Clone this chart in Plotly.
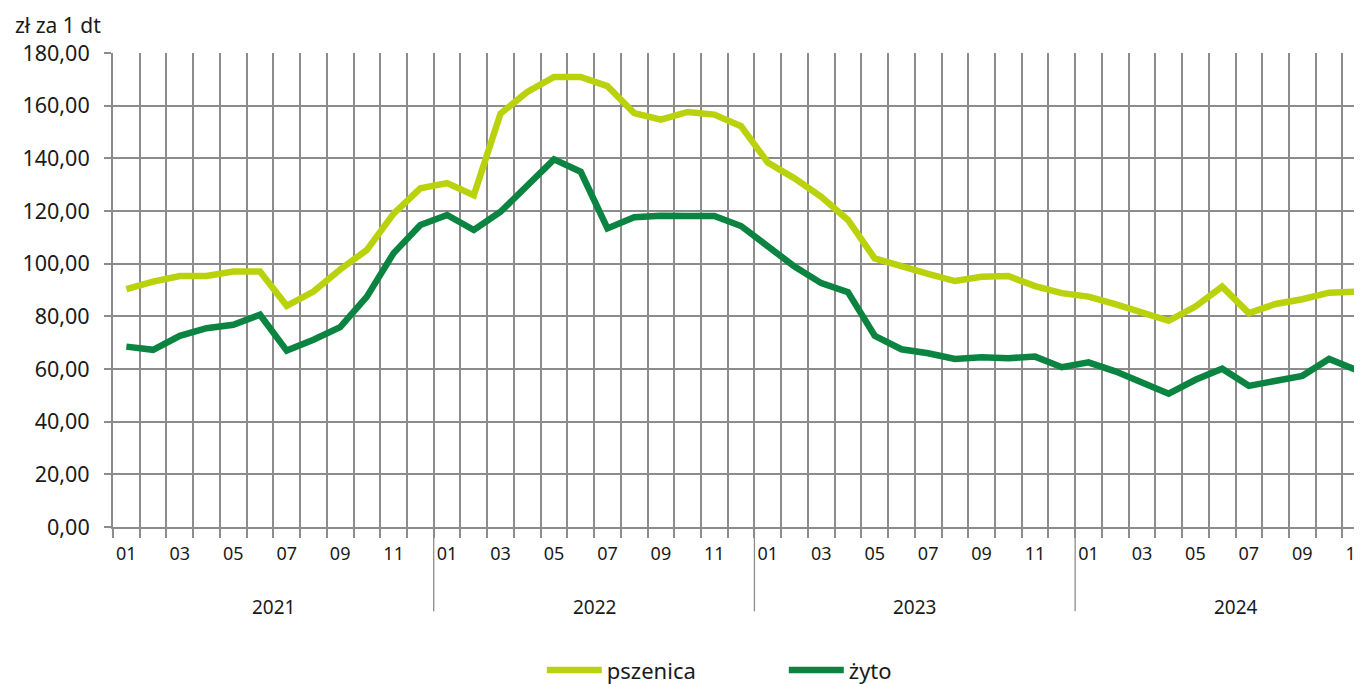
import plotly.graph_objects as go

years = ["2021", "2022", "2023", "2024"]
month_labels = ["01", "02", "03", "04", "05", "06", "07", "08", "09", "10", "11", "12"]

# monthly prices, 2021-01 .. 2024-11 (zł za 1 dt)
pszenica = [90.3, 93.2, 95.3, 95.3, 97.0, 97.0, 84.0, 89.4, 97.8, 105.2, 119.0, 128.6,
            130.6, 126.0, 157.0, 165.2, 170.9, 170.9, 167.4, 157.2, 154.7, 157.6, 156.6, 152.2,
            138.4, 132.4, 125.4, 116.6, 102.0, 98.9, 96.1, 93.4, 95.0, 95.3, 91.5, 88.8,
            87.5, 84.6, 81.2, 78.3, 83.7, 91.3, 81.2, 84.7, 86.5, 89.0, 89.4]
zyto = [68.5, 67.3, 72.6, 75.5, 76.8, 80.6, 67.0, 71.1, 75.9, 87.5, 104.0, 114.7,
        118.5, 112.8, 119.7, 129.8, 139.6, 134.9, 113.4, 117.6, 118.2, 118.1, 118.1, 114.3,
        106.4, 98.9, 92.6, 89.2, 72.6, 67.5, 66.0, 63.8, 64.5, 64.1, 64.7, 60.7,
        62.5, 59.1, 54.9, 50.6, 55.9, 60.1, 53.6, 55.3, 57.4, 63.8, 59.7]
y_ticks = [0, 20, 40, 60, 80, 100, 120, 140, 160, 180]

n = len(pszenica)
x = list(range(n))
month_text = [month_labels[i % 12] for i in range(n)]

GRID = "#8c8c8c"
LIGHT = "#bad20c"
DARK = "#0b8441"
TXT = "#1a1a1a"
FONT = "Noto Sans, Open Sans"

# page body has an 8px margin, so the figure is placed at (8, 8)
OFF = 8
W, H = 1362 - OFF, 684 - OFF
L, T = 113.3 - OFF, 52.7 - OFF
BOT = 527.5 - OFF
B = H - BOT
PH = BOT - T
PW = W - L

fig = go.Figure()
fig.add_trace(go.Scatter(x=x, y=pszenica, mode="lines", name="pszenica",
                         line=dict(color=LIGHT, width=6.5)))
fig.add_trace(go.Scatter(x=x, y=zyto, mode="lines", name="żyto",
                         line=dict(color=DARK, width=6.5)))
# invisible helper so the label axis (y2) is rendered
fig.add_trace(go.Scatter(x=[x[0]], y=[y_ticks[0]], yaxis="y2", mode="markers",
                         marker=dict(opacity=0), showlegend=False, hoverinfo="skip"))

tickvals = [i for i in range(n) if i % 2 == 0]
ticktext = [month_text[i] for i in tickvals]
y_text = [f"{v:.2f}".replace(".", ",") for v in y_ticks]

fig.update_xaxes(
    range=[-0.5, -0.5 + PW / 26.72], automargin=False,
    tickmode="array", tickvals=tickvals, ticktext=ticktext,
    ticks="outside", ticklen=9, tickcolor="rgba(0,0,0,0)",
    ticklabeloverflow="allow",
    showgrid=False, zeroline=False,
    showline=True, linecolor=GRID, linewidth=2,
    tickfont=dict(family=FONT, size=18, color=TXT),
    minor=dict(tickmode="linear", tick0=-0.5, dtick=1, showgrid=True, gridcolor=GRID,
               gridwidth=1.5, ticks="outside", ticklen=9, tickcolor=GRID, tickwidth=1.5),
)
# main y axis: grid + short visible ticks, no labels
fig.update_yaxes(
    range=[0, 180], automargin=False,
    tickmode="array", tickvals=y_ticks, showticklabels=False,
    ticks="outside", ticklen=7, tickcolor=GRID, tickwidth=2,
    showgrid=True, gridcolor=GRID, gridwidth=2,
    zeroline=False, showline=True, linecolor=GRID, linewidth=1.5,
)

fig.update_layout(
    yaxis2=dict(
        overlaying="y", side="left", range=[0, 180], automargin=False,
        tickmode="array", tickvals=y_ticks, ticktext=y_text,
        ticks="outside", ticklen=18, tickcolor="rgba(0,0,0,0)",
        showgrid=False, zeroline=False, showline=False,
        tickfont=dict(family=FONT, size=21.5, color=TXT),
    )
)

# year separators and labels below the axis
for k, yr in enumerate(years):
    if k > 0:
        fig.add_shape(type="line", xref="x", yref="paper", x0=12 * k - 0.5, x1=12 * k - 0.5,
                      y0=0, y1=-(612 - 527.5) / PH, line=dict(color=GRID, width=1.3))
    fig.add_annotation(x=12 * k + 5.5, xref="x", y=-(608 - 527.5) / PH, yref="paper", text=yr,
                       showarrow=False, yanchor="middle",
                       font=dict(family=FONT, size=19, color=TXT))

fig.add_annotation(x=(13 - OFF - L) / PW, xref="paper", y=1 + (52.7 - 25) / PH, yref="paper",
                   text="zł za 1 dt", showarrow=False, xanchor="left", yanchor="middle",
                   font=dict(family=FONT, size=21, color=TXT))

fig.update_layout(
    width=W, height=H,
    margin=dict(l=L, r=0, t=T, b=B, autoexpand=False),
    plot_bgcolor="white", paper_bgcolor="white",
    showlegend=True,
    legend=dict(orientation="h", x=(542 - OFF - L) / PW, xanchor="left",
                y=-(671 - 527.5) / PH, yanchor="middle",
                itemwidth=55, entrywidth=172, entrywidthmode="pixels",
                font=dict(family=FONT, size=22, color=TXT)),
)

fig.write_html("out.html")
